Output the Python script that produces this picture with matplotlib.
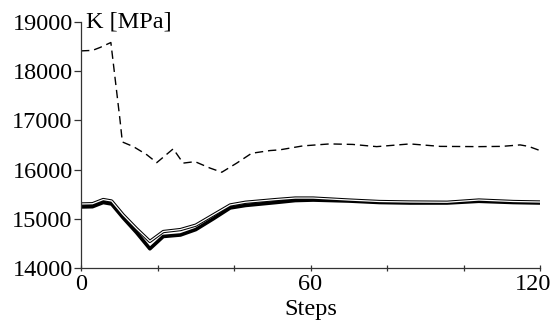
import matplotlib.pyplot as plt
from matplotlib.transforms import ScaledTranslation

plt.rcParams['font.family'] = ['Liberation Serif', 'DejaVu Serif']

# dashed curve
dash_steps = [0, 3, 5, 7.8, 10.2, 10.8, 13.7, 17.2, 19.8, 24.1, 26.7, 29.8, 33.7, 36.8,
              40.7, 44.6, 49.4, 52, 58, 65, 71, 77.3, 86, 93.9, 104, 110, 114.8, 117, 120]
dash_values = [18410, 18420, 18480, 18580, 17000, 16560, 16465, 16300, 16140, 16420, 16130,
               16160, 16030, 15945, 16130, 16330, 16385, 16400, 16480, 16520, 16510, 16465,
               16520, 16470, 16465, 16470, 16500, 16470, 16385]

# solid curves (upper: white-core line, lower: thick black line)
solid_steps = [0, 3, 5.8, 8, 11, 14.5, 18, 21.5, 26, 30, 34.6, 39, 43, 51, 56, 60.7,
               70, 78, 86, 95.7, 104, 113, 120]
upper_values = [15300, 15305, 15390, 15360, 15080, 14800, 14540, 14740, 14780, 14870, 15080,
                15280, 15335, 15390, 15420, 15420, 15380, 15350, 15340, 15335, 15380, 15350,
                15340]
lower_values = [15240, 15245, 15330, 15300, 15020, 14720, 14390, 14640, 14670, 14780, 15000,
                15220, 15270, 15330, 15370, 15380, 15360, 15330, 15320, 15320, 15355, 15330,
                15320]

fig = plt.figure(figsize=(5.55, 3.26), dpi=100)
ax = fig.add_axes([0.146, 0.178, 0.827, 0.755])

ax.plot(dash_steps, dash_values, color='black', lw=1.0, dashes=(6, 3.5))
ax.plot(solid_steps, lower_values, color='black', lw=2.6, solid_capstyle='butt')
ax.plot(solid_steps, upper_values, color='black', lw=2.4, solid_capstyle='butt')
ax.plot(solid_steps, upper_values, color='white', lw=0.9, solid_capstyle='butt')

ax.set_xlim(0, 120)
ax.set_ylim(14000, 19000)
ax.set_xticks([0, 60, 120])
ax.set_xticks([20, 40, 80, 100], minor=True)
ax.set_yticks([14000, 15000, 16000, 17000, 18000, 19000])

for side in ('top', 'right'):
    ax.spines[side].set_visible(False)
for side in ('left', 'bottom'):
    ax.spines[side].set_linewidth(0.9)
    ax.spines[side].set_color('#333333')

ax.tick_params(axis='y', direction='out', length=5, width=0.9, labelsize=17.5, pad=1,
               color='#333333')
ax.tick_params(axis='x', which='both', direction='inout', length=5, width=0.9,
               labelsize=17.5, pad=2, color='#333333')

# keep the last x label inside the figure
last = ax.get_xticklabels()[-1]
last.set_transform(last.get_transform() + ScaledTranslation(-0.07, 0, fig.dpi_scale_trans))

ax.text(0.01, 1.0, 'K [MPa]', transform=ax.transAxes, fontsize=17.5, va='center', ha='left')
ax.set_xlabel('Steps', fontsize=17.5, labelpad=3)

fig.savefig('out.png', dpi=100)
